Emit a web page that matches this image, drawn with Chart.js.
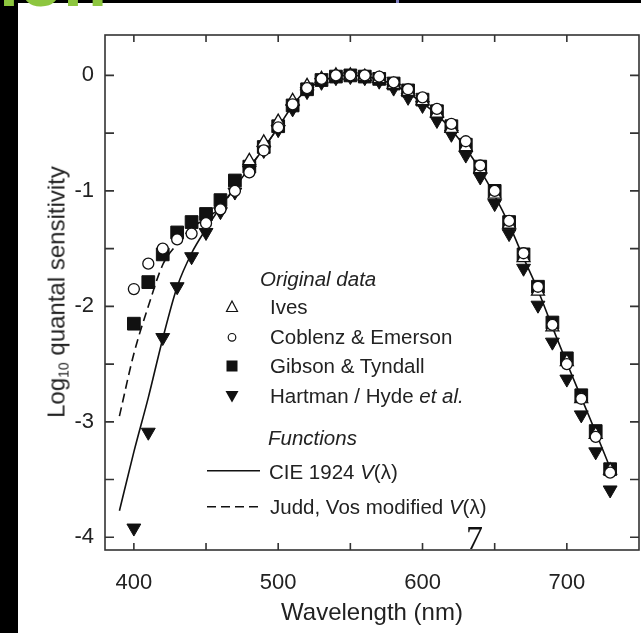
<!DOCTYPE html>
<html>
<head>
<meta charset="utf-8">
<title>Log10 quantal sensitivity</title>
<script src="https://cdn.jsdelivr.net/npm/chart.js@4.4.1/dist/chart.umd.min.js"></script>
<style>
  html, body { margin: 0; padding: 0; background: #fff; overflow: hidden; }
  #wrap { position: relative; width: 641px; height: 633px; overflow: hidden;
          font-family: "Liberation Sans", Arial, sans-serif; color: #222; }
  #wrap canvas { position: absolute; left: 0; top: 0; }
  .band { position: absolute; background: #000; }
  .lbl { position: absolute; font-size: 20.5px; line-height: 24px; white-space: nowrap; }
  #ytitle { position: absolute; left: 57px; top: 292px; font-size: 24px; white-space: nowrap;
            transform: translate(-50%, -50%) rotate(-90deg); }
  #ytitle sub { font-size: 14px; vertical-align: -4px; }
  #slide { position: absolute; left: -1px; top: -55px; font-size: 72px; line-height: 72px;
           font-weight: bold; color: #8dc63f; }
  #page { position: absolute; left: 466px; top: 521px; font-family: "Liberation Serif", serif;
          font-size: 34px; line-height: 34px; color: #111; }
</style>
</head>
<body>
<div id="wrap">
  <canvas id="chart" width="641" height="633"></canvas>
  <div class="band" style="left:0;top:0;width:18px;height:633px"></div>
  <div class="band" style="left:0;top:0;width:641px;height:3px"></div>
  <div class="band" style="left:396px;top:0;width:3px;height:3px;background:#8080c0"></div>
  <div id="slide">ion</div>
  <div id="ytitle">Log<sub>10</sub> quantal sensitivity</div>
  <div class="lbl" style="left:260px;top:267px"><i>Original data</i></div>
  <div class="lbl" style="left:270px;top:295px">Ives</div>
  <div class="lbl" style="left:270px;top:325px">Coblenz &amp; Emerson</div>
  <div class="lbl" style="left:270px;top:354px">Gibson &amp; Tyndall</div>
  <div class="lbl" style="left:270px;top:384px">Hartman / Hyde <i>et al.</i></div>
  <div class="lbl" style="left:268px;top:426px"><i>Functions</i></div>
  <div class="lbl" style="left:269px;top:460px">CIE 1924 <i>V</i>(λ)</div>
  <div class="lbl" style="left:270px;top:495px">Judd, Vos modified <i>V</i>(λ)</div>
  <div id="page">7</div>
</div>
<script>
// wavelengths (nm) of the measured points
const wavelengths = [400, 410, 420, 430, 440, 450, 460, 470, 480, 490, 500, 510, 520, 530, 540, 550, 560,
                     570, 580, 590, 600, 610, 620, 630, 640, 650, 660, 670, 680, 690, 700, 710, 720, 730];
const ivesWavelengths = [480, 490, 500, 510, 520, 530, 540, 550, 560, 570, 580, 590, 600, 610, 620, 630,
                         640, 650, 660, 670, 680, 690, 700, 710, 720, 730];
const funcWavelengths = [390, 400, 410, 420, 430, 440, 450, 460, 470, 480, 490, 500, 510, 520, 530, 540, 550,
                         560, 570, 580, 590, 600, 610, 620, 630, 640, 650, 660, 670, 680, 690, 700, 710, 720, 730];
const juddWavelengths = [390, 400, 410, 420, 430, 440, 450, 460, 470, 480, 490, 500];

// log10 quantal sensitivity
const ivesValues = [-0.74, -0.58, -0.40, -0.22, -0.09, -0.03, 0.00, 0.00, -0.01, -0.03, -0.08, -0.14, -0.22,
                    -0.33, -0.46, -0.62, -0.81, -1.03, -1.29, -1.58, -1.87, -2.18, -2.48, -2.80, -3.11, -3.42];
const coblentzValues = [-1.85, -1.63, -1.50, -1.42, -1.37, -1.28, -1.16, -1.00, -0.84, -0.65, -0.45, -0.25,
                        -0.11, -0.03, 0.00, 0.00, 0.00, -0.01, -0.06, -0.12, -0.19, -0.29, -0.42, -0.57,
                        -0.78, -1.00, -1.26, -1.54, -1.83, -2.16, -2.50, -2.80, -3.13, -3.44];
const gibsonValues = [-2.15, -1.79, -1.55, -1.36, -1.27, -1.20, -1.08, -0.91, -0.79, -0.62, -0.44, -0.26,
                      -0.12, -0.04, -0.01, 0.00, -0.01, -0.03, -0.07, -0.13, -0.21, -0.31, -0.44, -0.60,
                      -0.79, -1.00, -1.27, -1.55, -1.83, -2.14, -2.45, -2.77, -3.08, -3.41];
const hartmanValues = [-3.92, -3.09, -2.27, -1.83, -1.57, -1.36, -1.18, -1.01, -0.82, -0.65, -0.47, -0.29,
                       -0.14, -0.06, -0.02, -0.01, -0.02, -0.05, -0.11, -0.19, -0.26, -0.39, -0.51, -0.69,
                       -0.88, -1.11, -1.37, -1.67, -1.99, -2.31, -2.63, -2.94, -3.26, -3.59];
const cieValues = [-3.77, -3.26, -2.79, -2.28, -1.83, -1.54, -1.33, -1.14, -0.97, -0.80, -0.63, -0.45, -0.26,
                   -0.12, -0.05, -0.01, 0.00, -0.01, -0.035, -0.08, -0.15, -0.24, -0.34, -0.47, -0.63, -0.82,
                   -1.04, -1.29, -1.58, -1.86, -2.18, -2.49, -2.79, -3.09, -3.40];
const juddValues = [-2.95, -2.41, -2.00, -1.64, -1.46, -1.32, -1.24, -1.14, -0.97, -0.80, -0.63, -0.45];

// axis ticks
const xTickLabels = [400, 500, 600, 700];
const yTickLabels = [0, -1, -2, -3, -4];
const xTickMarks = [400, 450, 500, 550, 600, 650, 700];
const yTickMarks = [0, -0.5, -1, -1.5, -2, -2.5, -3, -3.5, -4];

const pts = (xs, ys) => xs.map((w, i) => ({ x: w, y: ys[i] }));
const INK = '#111';

// frame with inward ticks + legend symbols
const framePlugin = {
  id: 'frameTicks',
  afterDraw(chart) {
    const { ctx, chartArea: a, scales: { x, y } } = chart;
    ctx.save();
    ctx.strokeStyle = '#333';
    ctx.lineWidth = 1.6;
    ctx.strokeRect(a.left, a.top, a.right - a.left, a.bottom - a.top);
    ctx.beginPath();
    xTickMarks.forEach(v => {
      const px = x.getPixelForValue(v);
      ctx.moveTo(px, a.bottom); ctx.lineTo(px, a.bottom - 7);
      ctx.moveTo(px, a.top); ctx.lineTo(px, a.top + 7);
    });
    yTickMarks.forEach(v => {
      const py = y.getPixelForValue(v);
      ctx.moveTo(a.left, py); ctx.lineTo(a.left + 9, py);
      ctx.moveTo(a.right, py); ctx.lineTo(a.right - 9, py);
    });
    ctx.stroke();

    // legend symbols
    ctx.strokeStyle = INK;
    ctx.fillStyle = INK;
    ctx.lineWidth = 1.2;
    ctx.beginPath();
    ctx.moveTo(232, 301); ctx.lineTo(226.5, 311.5); ctx.lineTo(237.5, 311.5); ctx.closePath();
    ctx.stroke();
    ctx.beginPath();
    ctx.arc(232, 337.3, 3.8, 0, Math.PI * 2);
    ctx.stroke();
    ctx.fillRect(226.5, 360.5, 11, 11);
    ctx.beginPath();
    ctx.moveTo(225.5, 391); ctx.lineTo(238.5, 391); ctx.lineTo(232, 402.5); ctx.closePath();
    ctx.fill();
    ctx.lineWidth = 1.4;
    ctx.beginPath();
    ctx.moveTo(207, 470.7); ctx.lineTo(260, 470.7);
    ctx.stroke();
    ctx.setLineDash([9, 5]);
    ctx.beginPath();
    ctx.moveTo(207, 506.7); ctx.lineTo(261, 506.7);
    ctx.stroke();
    ctx.restore();
  }
};

new Chart(document.getElementById('chart'), {
  type: 'scatter',
  data: {
    datasets: [
      { label: 'Coblenz & Emerson', data: pts(wavelengths, coblentzValues), order: 1,
        pointStyle: 'circle', pointRadius: 5.5, pointBackgroundColor: '#fff',
        pointBorderColor: INK, pointBorderWidth: 1.3 },
      { label: 'Ives', data: pts(ivesWavelengths, ivesValues), order: 2,
        pointStyle: 'triangle', pointRadius: 7.5, pointBackgroundColor: '#fff',
        pointBorderColor: INK, pointBorderWidth: 1.3 },
      { label: 'Gibson & Tyndall', data: pts(wavelengths, gibsonValues), order: 3,
        pointStyle: 'rect', pointRadius: 9, pointBackgroundColor: INK,
        pointBorderColor: INK, pointBorderWidth: 1 },
      { label: 'Hartman / Hyde et al.', data: pts(wavelengths, hartmanValues), order: 4,
        pointStyle: 'triangle', pointRotation: 180, pointRadius: 8, pointBackgroundColor: INK,
        pointBorderColor: INK, pointBorderWidth: 1 },
      { label: 'CIE 1924 V(λ)', data: pts(funcWavelengths, cieValues), order: 5,
        showLine: true, pointRadius: 0, borderColor: INK, borderWidth: 1.6,
        cubicInterpolationMode: 'monotone' },
      { label: 'Judd, Vos modified V(λ)', data: pts(juddWavelengths, juddValues), order: 6,
        showLine: true, pointRadius: 0, borderColor: INK, borderWidth: 1.6, borderDash: [9, 5],
        cubicInterpolationMode: 'monotone' }
    ]
  },
  options: {
    responsive: false,
    animation: false,
    layout: { autoPadding: false, padding: { top: 35, right: 2, left: 0, bottom: 0 } },
    plugins: { legend: { display: false }, tooltip: { enabled: false } },
    scales: {
      x: {
        type: 'linear', min: 380, max: 750,
        grid: { display: false, drawTicks: false },
        border: { display: false },
        afterBuildTicks: s => { s.ticks = xTickLabels.map(v => ({ value: v })); },
        afterFit: s => { s.height = 83; s.paddingLeft = 0; s.paddingRight = 0; },
        ticks: {
          autoSkip: false, maxRotation: 0, padding: 20, color: '#222',
          font: { family: '"Liberation Sans", Arial, sans-serif', size: 22 }
        },
        title: {
          display: true, text: 'Wavelength (nm)', color: '#222',
          font: { family: '"Liberation Sans", Arial, sans-serif', size: 24 },
          padding: { top: 0, bottom: 5 }
        }
      },
      y: {
        type: 'linear', min: -4.11, max: 0.35,
        grid: { display: false, drawTicks: false },
        border: { display: false },
        afterBuildTicks: s => { s.ticks = yTickLabels.map(v => ({ value: v })); },
        afterFit: s => { s.width = 105; s.paddingTop = 0; s.paddingBottom = 0; },
        ticks: {
          autoSkip: false, padding: 11, color: '#222',
          font: { family: '"Liberation Sans", Arial, sans-serif', size: 22 }
        }
      }
    }
  },
  plugins: [framePlugin]
});
</script>
</body>
</html>
